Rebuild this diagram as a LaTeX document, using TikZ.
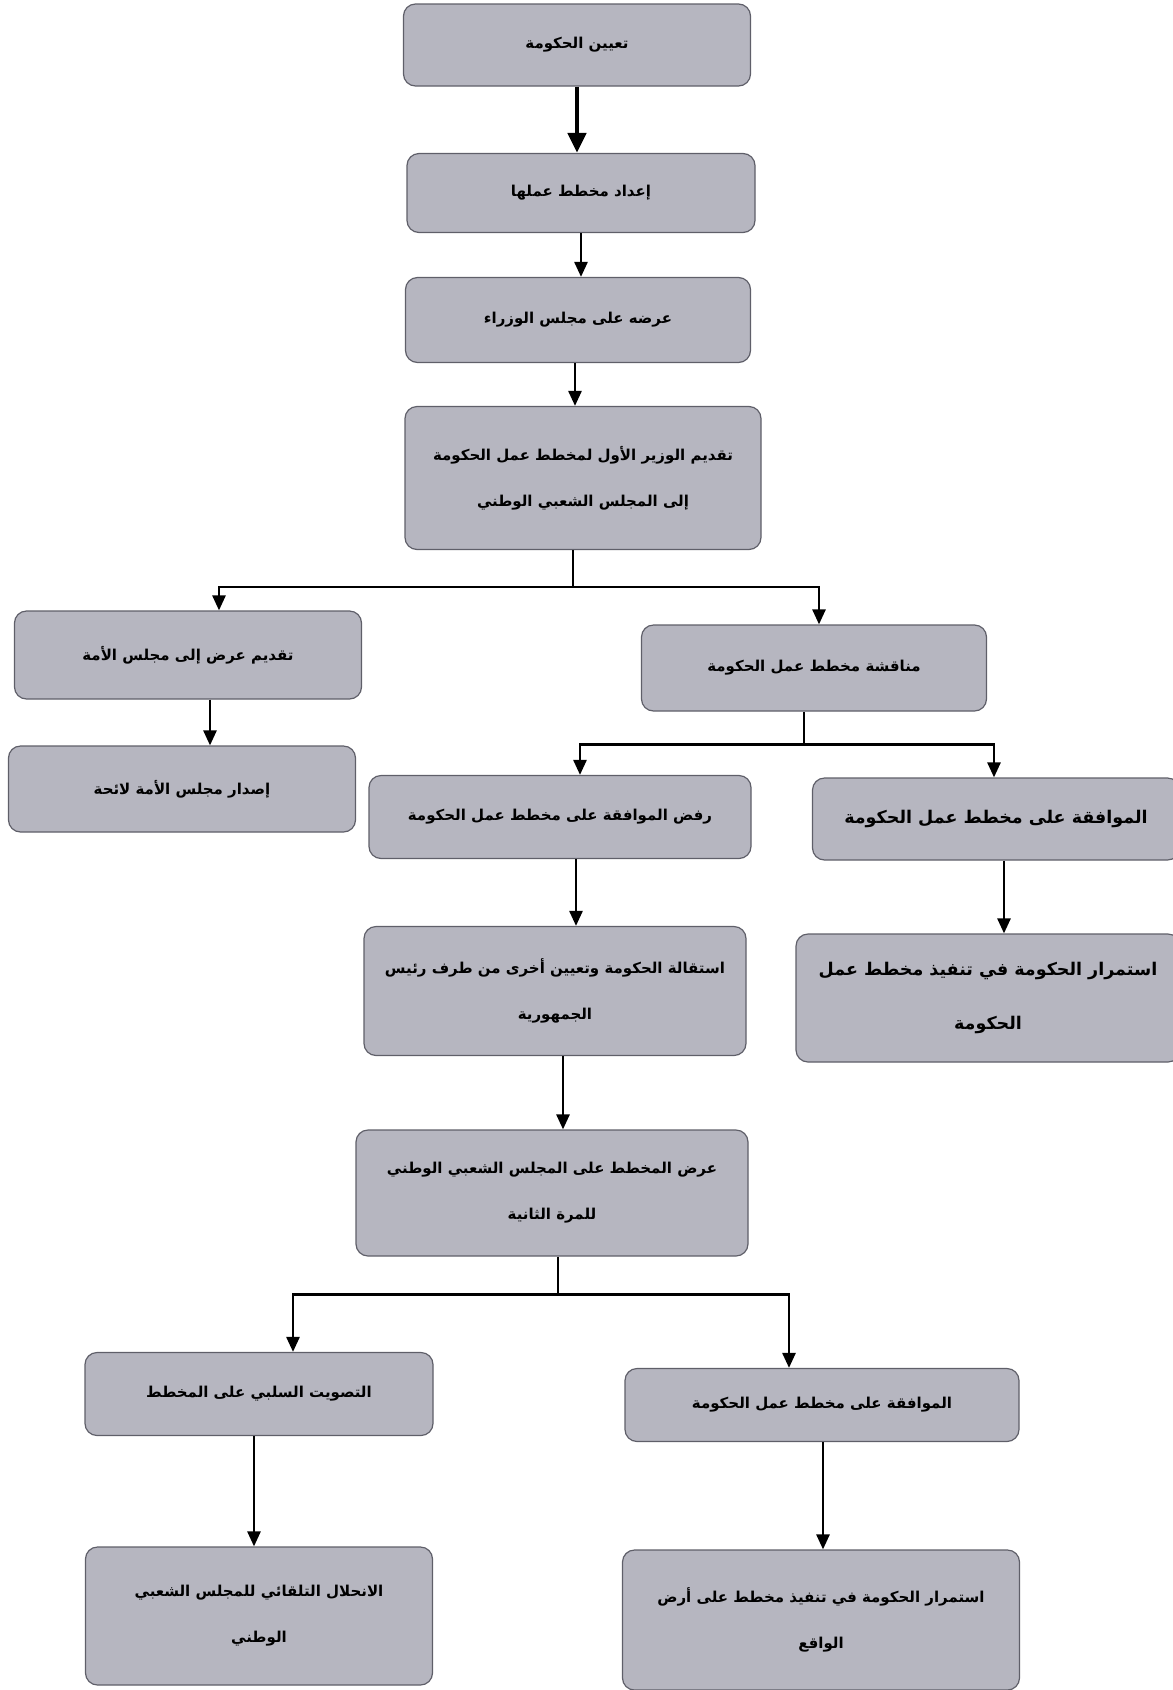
\documentclass[tikz,border=0pt]{standalone}
\usepackage{fontspec}
\newfontfamily\arabicfont[Script=Arabic]{DejaVu Sans}
\TeXXeTstate=1
\definecolor{boxfill}{RGB}{182, 182, 192}
\definecolor{boxedge}{RGB}{95, 95, 105}
\usetikzlibrary{arrows.meta, positioning, calc}
\newcommand{\artext}[1]{\beginR #1\endR}

\begin{document}
\begin{tikzpicture}[x=1pt, y=-1pt,
    stage/.style={draw=boxedge, fill=boxfill, line width=1.2pt, rounded corners=12pt,
                  align=center, inner sep=0pt, font={\arabicfont\bfseries\fontsize{15}{46}\selectfont}},
    bigtext/.style={font={\arabicfont\bfseries\fontsize{17.5}{54}\selectfont}},
    flow/.style={line width=2.6pt, -{Triangle[length=15pt, width=13pt]}},
    link/.style={line width=2.6pt}]

                % Page
                \path[use as bounding box] (0,0) rectangle (1173,1690);
                \clip (0,0) rectangle (1173,1690);

                % Main chain
                \node[stage, minimum width=347pt, minimum height=82pt] (appoint) at (577,45) {\artext{تعيين الحكومة}};
                \node[stage, minimum width=348pt, minimum height=79pt] (prepare) at (581,193) {\artext{إعداد مخطط عملها}};
                \node[stage, minimum width=345pt, minimum height=85pt] (council) at (578,320) {\artext{عرضه على مجلس الوزراء}};
                \node[stage, minimum width=356pt, minimum height=143pt] (present) at (583,478)
                    {\artext{تقديم الوزير الأول لمخطط عمل الحكومة}\\\artext{إلى المجلس الشعبي الوطني}};

                % Left branch - council of the nation
                \node[stage, minimum width=347pt, minimum height=88pt] (senate) at (188,655) {\artext{تقديم عرض إلى مجلس الأمة}};
                \node[stage, minimum width=347pt, minimum height=86pt] (motion) at (182,789) {\artext{إصدار مجلس الأمة لائحة}};

                % Debate and first vote
                \node[stage, minimum width=345pt, minimum height=86pt] (debate) at (814,668) {\artext{مناقشة مخطط عمل الحكومة}};
                \node[stage, minimum width=382pt, minimum height=83pt] (reject) at (560,817) {\artext{رفض الموافقة على مخطط عمل الحكومة}};
                \node[stage, bigtext, minimum width=367pt, minimum height=82pt] (approve) at (996,819) {\artext{الموافقة على مخطط عمل الحكومة}};
                \node[stage, minimum width=382pt, minimum height=129pt] (resign) at (555,991)
                    {\artext{استقالة الحكومة وتعيين أخرى من طرف رئيس}\\\artext{الجمهورية}};
                \node[stage, bigtext, minimum width=384pt, minimum height=128pt] (carryon) at (988,998)
                    {\artext{استمرار الحكومة في تنفيذ مخطط عمل}\\\artext{الحكومة}};

                % Second presentation
                \node[stage, minimum width=392pt, minimum height=126pt] (second) at (552,1193)
                    {\artext{عرض المخطط على المجلس الشعبي الوطني}\\\artext{للمرة الثانية}};
                \node[stage, minimum width=348pt, minimum height=83pt] (negvote) at (259,1394) {\artext{التصويت السلبي على المخطط}};
                \node[stage, minimum width=394pt, minimum height=73pt] (approvetwo) at (822,1405) {\artext{الموافقة على مخطط عمل الحكومة}};
                \node[stage, minimum width=347pt, minimum height=138pt] (dissolve) at (259,1616)
                    {\artext{الانحلال التلقائي للمجلس الشعبي}\\\artext{الوطني}};
                \node[stage, minimum width=397pt, minimum height=140pt] (carryontwo) at (821,1620)
                    {\artext{استمرار الحكومة في تنفيذ مخطط على أرض}\\\artext{الواقع}};

                % Arrows - main chain
                \draw[line width=4.5pt, -{Triangle[length=20pt, width=18pt]}] (appoint.south) -- (appoint.south |- prepare.north);
                \draw[flow] (prepare.south) -- (prepare.south |- council.north);
                \draw[flow] ([xshift=-3pt]council.south) -- ([xshift=-3pt]council.south |- present.north);

                % First split
                \draw[link] ([xshift=-10pt]present.south) -- ++(0,37) coordinate (split1);
                \draw[flow] (split1) -| ([xshift=31pt]senate.north);
                \draw[flow] (split1) -| ([xshift=5pt]debate.north);
                \draw[flow] ([xshift=22pt]senate.south) -- ([xshift=22pt]senate.south |- motion.north);

                % Second split
                \draw[link] ([xshift=-10pt]debate.south) -- ++(0,33) coordinate (split2);
                \draw[flow] (split2) -| ([xshift=20pt]reject.north);
                \draw[flow] (split2) -| ([xshift=-2pt]approve.north);
                \draw[flow] ([xshift=16pt]reject.south) -- ([xshift=16pt]reject.south |- resign.north);
                \draw[flow] ([xshift=8pt]approve.south) -- ([xshift=8pt]approve.south |- carryon.north);
                \draw[flow] ([xshift=8pt]resign.south) -- ([xshift=8pt]resign.south |- second.north);

                % Third split
                \draw[link] ([xshift=6pt]second.south) -- ++(0,38) coordinate (split3);
                \draw[flow] (split3) -| ([xshift=34pt]negvote.north);
                \draw[flow] (split3) -| ([xshift=-33pt]approvetwo.north);
                \draw[flow] ([xshift=-5pt]negvote.south) -- ([xshift=-5pt]negvote.south |- dissolve.north);
                \draw[flow] ([xshift=1pt]approvetwo.south) -- ([xshift=1pt]approvetwo.south |- carryontwo.north);
            \end{tikzpicture}
\end{document}
